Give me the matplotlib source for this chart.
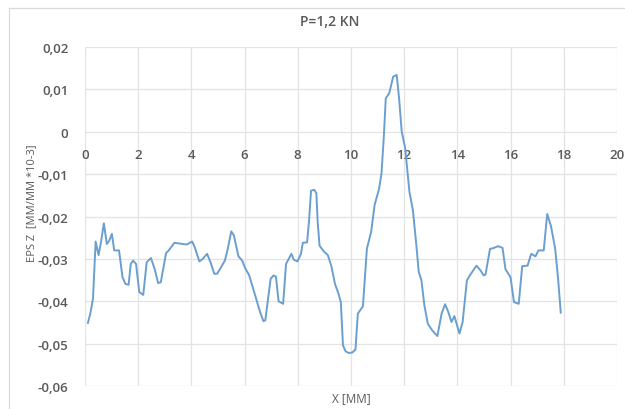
import matplotlib
matplotlib.use("Agg")
import matplotlib.pyplot as plt
from matplotlib.lines import Line2D
from matplotlib.ticker import FuncFormatter

# strain profile along the specimen, P = 1,2 kN
x_mm = [0.11, 0.2, 0.3, 0.4, 0.51, 0.6, 0.71, 0.82, 0.91, 1.01,
        1.1, 1.28, 1.41, 1.52, 1.64, 1.72, 1.81, 1.92, 2.04, 2.19,
        2.32, 2.48, 2.62, 2.75, 2.85, 3.05, 3.15, 3.36, 3.69, 3.83,
        4.03, 4.13, 4.3, 4.43, 4.59, 4.72, 4.86, 4.97, 5.26, 5.37,
        5.5, 5.6, 5.77, 5.91, 6.04, 6.17, 6.38, 6.58, 6.71, 6.78,
        6.98, 7.09, 7.18, 7.28, 7.45, 7.56, 7.76, 7.85, 7.99, 8.12,
        8.19, 8.35, 8.42, 8.5, 8.62, 8.7, 8.75, 8.82, 8.99, 9.13,
        9.26, 9.4, 9.53, 9.62, 9.7, 9.8, 9.91, 10.05, 10.17, 10.26,
        10.45, 10.6, 10.76, 10.89, 11.06, 11.15, 11.24, 11.31, 11.44, 11.59,
        11.72, 11.81, 11.91, 12.04, 12.2, 12.33, 12.46, 12.55, 12.65, 12.76,
        12.89, 13.06, 13.25, 13.41, 13.54, 13.66, 13.78, 13.89, 14.01, 14.08,
        14.2, 14.36, 14.47, 14.72, 14.87, 14.99, 15.06, 15.23, 15.34, 15.53,
        15.7, 15.81, 16.0, 16.13, 16.31, 16.44, 16.64, 16.78, 16.94, 17.05,
        17.25, 17.38, 17.52, 17.68, 17.79, 17.89]
eps_z = [-0.0451, -0.0429, -0.0394, -0.0259, -0.0291, -0.0261, -0.0216, -0.0265, -0.0257, -0.0241,
         -0.028, -0.028, -0.0343, -0.0359, -0.0361, -0.0312, -0.0304, -0.0312, -0.0378, -0.0385,
         -0.0308, -0.0298, -0.0324, -0.0357, -0.0355, -0.0286, -0.028, -0.0262, -0.0265, -0.0266,
         -0.0259, -0.0273, -0.0306, -0.03, -0.0288, -0.0308, -0.0335, -0.0335, -0.0304, -0.0276,
         -0.0235, -0.0245, -0.0294, -0.0304, -0.0324, -0.0338, -0.0382, -0.0425, -0.0447, -0.0445,
         -0.0347, -0.0339, -0.0342, -0.04, -0.0406, -0.0312, -0.0288, -0.0302, -0.0306, -0.0288,
         -0.0262, -0.0261, -0.0214, -0.0139, -0.0137, -0.0145, -0.0214, -0.0269, -0.0283, -0.0291,
         -0.0316, -0.0359, -0.0382, -0.0402, -0.0504, -0.0518, -0.0522, -0.0521, -0.0514, -0.0429,
         -0.0412, -0.0276, -0.0236, -0.0173, -0.0134, -0.0098, -0.0008, 0.0079, 0.0091, 0.013,
         0.0134, 0.0079, 0.0, -0.0039, -0.0142, -0.0185, -0.0268, -0.0331, -0.035, -0.0409,
         -0.0453, -0.0469, -0.0482, -0.0429, -0.0407, -0.0425, -0.0449, -0.0435, -0.0461, -0.0476,
         -0.0449, -0.0351, -0.0339, -0.0316, -0.0327, -0.0339, -0.0337, -0.0276, -0.0275, -0.027,
         -0.0274, -0.0324, -0.0343, -0.0402, -0.0406, -0.0317, -0.0316, -0.0288, -0.0294, -0.028,
         -0.028, -0.0194, -0.0222, -0.0276, -0.0347, -0.0427]

x_ticks = [0, 2, 4, 6, 8, 10, 12, 14, 16, 18, 20]
y_ticks = [-0.06, -0.05, -0.04, -0.03, -0.02, -0.01, 0, 0.01, 0.02]

plt.rcParams['font.family'] = ['Open Sans', 'DejaVu Sans']
grey = '#595959'

fig = plt.figure(figsize=(6.25, 4.1), dpi=100)
ax = fig.add_axes([0.136, 0.056, 0.851, 0.827])

ax.plot(x_mm, eps_z, color='#6a9fcf', lw=1.4, solid_joinstyle='round')

ax.set_xlim(0, 20)
ax.set_ylim(-0.06, 0.02)
ax.set_xticks(x_ticks)
ax.set_yticks(y_ticks)
ax.grid(True, color='#e3e3e3', lw=0.9)
ax.set_axisbelow(True)

# x axis crosses at zero like the spreadsheet chart
ax.spines['bottom'].set_position(('data', 0))
for s in ['top', 'right', 'left', 'bottom']:
    ax.spines[s].set_visible(False)
ax.tick_params(length=0, labelsize=9.5, labelcolor=grey)
ax.tick_params(axis='x', pad=12)
ax.tick_params(axis='y', pad=12)
for lab in ax.get_xticklabels() + ax.get_yticklabels():
    lab.set_fontweight('semibold')

def comma_fmt(v, pos):
    if abs(v) < 1e-9:
        return '0'
    return ('%.2f' % v).replace('.', ',')

ax.yaxis.set_major_formatter(FuncFormatter(comma_fmt))

fig.text(0.528, 0.946, 'P=1,2 KN', ha='center', va='center',
         fontsize=10, color=grey, fontweight='semibold')
fig.text(0.562, 0.029, 'X [MM]', ha='center', va='center',
         fontsize=8.5, color=grey)
fig.text(0.05, 0.505, 'EPS Z  [MM/MM *10-3]', ha='center', va='center',
         rotation=90, fontsize=8, color=grey)

# chart area outline
fig.add_artist(Line2D([9/625, 9/625], [0, 1 - 9/410], color='#d9d9d9', lw=0.9))
fig.add_artist(Line2D([9/625, 1], [1 - 9/410, 1 - 9/410], color='#d9d9d9', lw=0.9))

fig.savefig('out.png', dpi=100)
